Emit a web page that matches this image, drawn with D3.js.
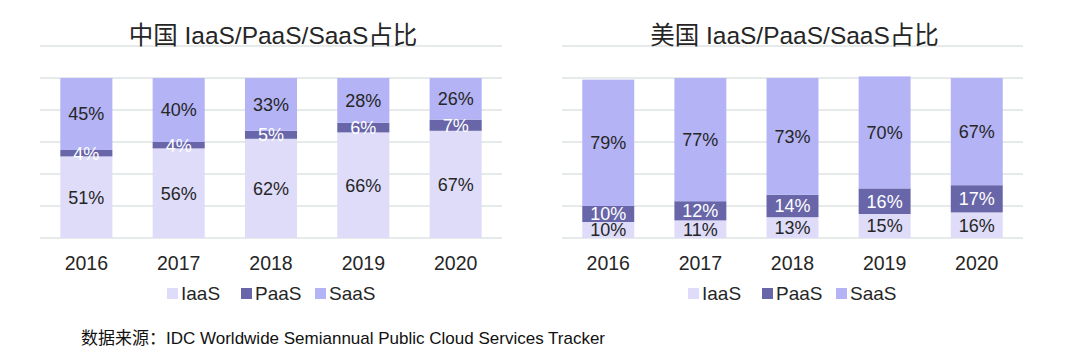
<!DOCTYPE html>
<html>
<head>
<meta charset="utf-8">
<script src="https://cdn.jsdelivr.net/npm/d3@7"></script>
<style>
  body { margin: 0; background: #fff; }
  text { font-family: "Liberation Sans", Arial, "Noto Sans CJK SC", sans-serif; fill: #262626; }
</style>
</head>
<body>
<script>
// chart data
var years = ["2016", "2017", "2018", "2019", "2020"];
var series = ["IaaS", "PaaS", "SaaS"];

var cnIaaS = [51, 56, 62, 66, 67];
var cnPaaS = [4, 4, 5, 6, 7];
var cnSaaS = [45, 40, 33, 28, 26];

var usIaaS = [10, 11, 13, 15, 16];
var usPaaS = [10, 12, 14, 16, 17];
var usSaaS = [79, 77, 73, 70, 67];

var yTicks = [0, 20, 40, 60, 80, 100, 120];

var colors = { IaaS: "#dedcf9", PaaS: "#6866a9", SaaS: "#b3b3f5" };
var labelColors = { IaaS: "#262626", PaaS: "#ffffff", SaaS: "#262626" };

var width = 1080, height = 363;

var svg = d3.select("body").append("svg")
    .attr("width", width)
    .attr("height", height);

function drawChart(title, iaas, paas, saas, x0, x1, legendX) {
  var g = svg.append("g");

  var rows = years.map(function (y, i) {
    return { year: y, IaaS: iaas[i], PaaS: paas[i], SaaS: saas[i] };
  });

  var x = d3.scaleBand()
      .domain(years)
      .range([x0, x1])
      .paddingInner(0.436)
      .paddingOuter(0.22);

  var y = d3.scaleLinear()
      .domain([0, 120])
      .range([238, 46]);

  // gridlines
  g.append("g").selectAll("line")
      .data(yTicks)
      .enter().append("line")
      .attr("x1", x0).attr("x2", x1)
      .attr("y1", function (d) { return y(d); })
      .attr("y2", function (d) { return y(d); })
      .attr("stroke", "#dfe3e3")
      .attr("stroke-width", 1.3);

  var stack = d3.stack().keys(series)(rows);

  var layers = g.append("g").selectAll("g")
      .data(stack)
      .enter().append("g")
      .attr("fill", function (d) { return colors[d.key]; });

  layers.selectAll("rect")
      .data(function (d) { return d; })
      .enter().append("rect")
      .attr("x", function (d) { return x(d.data.year); })
      .attr("width", x.bandwidth())
      .attr("y", function (d) { return y(d[1]); })
      .attr("height", function (d) { return y(d[0]) - y(d[1]); });

  // value labels
  stack.forEach(function (layer) {
    g.append("g").selectAll("text")
        .data(layer)
        .enter().append("text")
        .attr("x", function (d) { return x(d.data.year) + x.bandwidth() / 2; })
        .attr("y", function (d) { return (y(d[0]) + y(d[1])) / 2; })
        .attr("dy", "0.36em")
        .attr("text-anchor", "middle")
        .style("font-size", "18px")
        .style("fill", labelColors[layer.key])
        .text(function (d) { return (d[1] - d[0]) + "%"; });
  });

  // x axis labels
  g.append("g").selectAll("text")
      .data(years)
      .enter().append("text")
      .attr("x", function (d) { return x(d) + x.bandwidth() / 2; })
      .attr("y", 270)
      .attr("text-anchor", "middle")
      .style("font-size", "19.5px")
      .text(function (d) { return d; });

  // title
  g.append("text")
      .attr("x", (x0 + x1) / 2 + 2)
      .attr("y", 44)
      .attr("text-anchor", "middle")
      .style("font-size", "24.5px")
      .text(title);

  // legend
  var offsets = [0, 74, 148];
  var leg = g.append("g").selectAll("g")
      .data(series)
      .enter().append("g")
      .attr("transform", function (d, i) { return "translate(" + (legendX + offsets[i]) + ",0)"; });
  leg.append("rect")
      .attr("x", 0).attr("y", 288)
      .attr("width", 11).attr("height", 11)
      .attr("fill", function (d) { return colors[d]; });
  leg.append("text")
      .attr("x", 14).attr("y", 300)
      .style("font-size", "19px")
      .text(function (d) { return d; });
}

drawChart("中国 IaaS/PaaS/SaaS占比", cnIaaS, cnPaaS, cnSaaS, 40, 502, 167);
drawChart("美国 IaaS/PaaS/SaaS占比", usIaaS, usPaaS, usSaaS, 562, 1023, 688);

svg.append("text")
    .attr("x", 81)
    .attr("y", 344)
    .style("font-size", "17px")
    .style("fill", "#111")
    .text("数据来源：IDC Worldwide Semiannual Public Cloud Services Tracker");
</script>
</body>
</html>
